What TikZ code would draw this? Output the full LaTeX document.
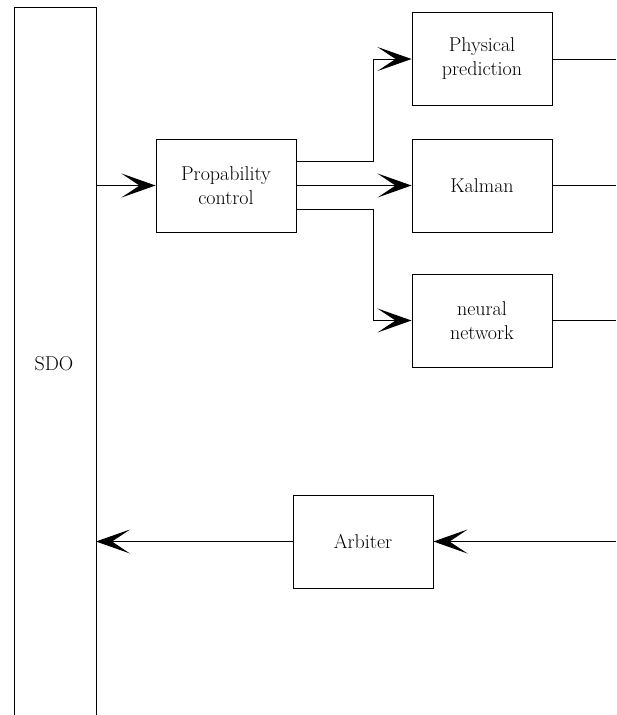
\documentclass[tikz,border=0pt]{standalone}
\usetikzlibrary{arrows.meta}
\begin{document}
\begin{tikzpicture}[x=1pt,y=-1pt,
  lbl/.style={font=\fontsize{20pt}{24pt}\selectfont},
  box/.style={lbl,draw,line width=1pt,minimum width=140pt,minimum height=93pt,inner sep=0pt,
    align=center},
  conn/.style={line width=1pt},
  arr/.style={conn,-{Stealth[length=34pt,width=24pt,inset=18pt]}}]
\useasboundingbox (0,0) rectangle (616,715);
\node[draw,line width=1pt,minimum width=82pt,minimum height=740pt,inner sep=0pt,
  anchor=north west] (sdo) at (14,7) {};
\node[lbl] (sdol) at (54,364) {SDO};
\node[box] (pc) at (226,185.5) {Propability\\control};
\node[box] (pp) at (482,59) {Physical\\prediction};
\node[box] (ka) at (482,185.5) {Kalman};
\node[box] (nn) at (482,320.5) {neural\\network};
\node[box] (ar) at (363,541.5) {Arbiter};
\coordinate (r1) at (616,59);
\coordinate (r2) at (616,185.5);
\coordinate (r3) at (616,320.5);
\coordinate (r4) at (616,541.5);
\coordinate (s1) at (96,185.5);
\coordinate (s2) at (96,541.5);
\coordinate (b1) at (373,161);
\coordinate (b3) at (373,209);
\draw[arr] (pc.east |- b1) -- (b1) |- (pp.west);
\draw[arr] (s1) -- (pc.west);
\draw[arr] (pc.east) -- (ka.west);
\draw[arr] (pc.east |- b3) -- (b3) |- (nn.west);
\draw[conn] (pp.east) -- (r1);
\draw[conn] (ka.east) -- (r2);
\draw[conn] (nn.east) -- (r3);
\draw[arr] (r4) -- (ar.east);
\draw[arr] (ar.west) -- (s2);
\end{tikzpicture}
\end{document}
